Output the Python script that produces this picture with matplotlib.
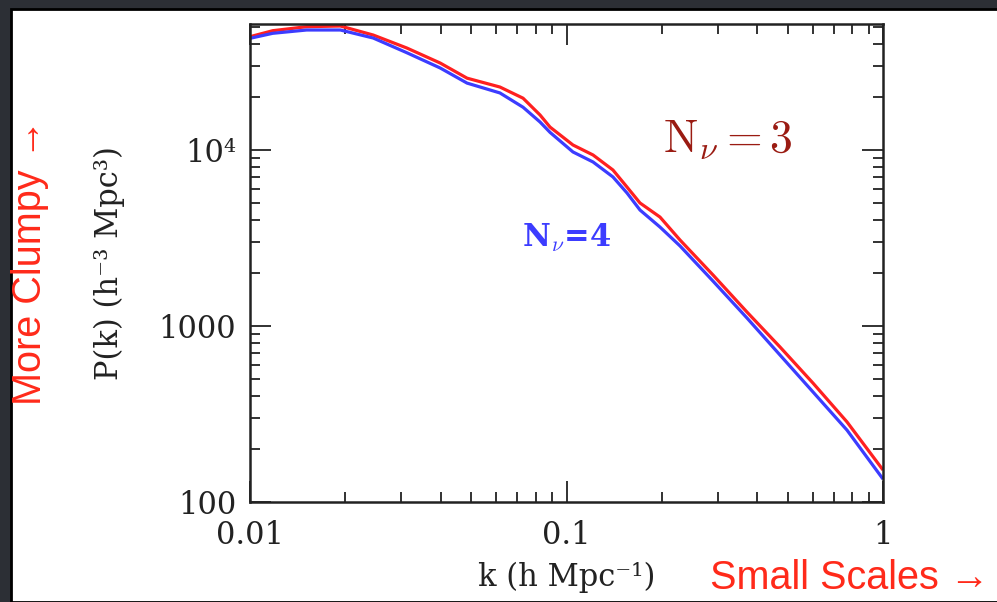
import matplotlib.pyplot as plt
import numpy as np
from matplotlib.patches import Rectangle
from matplotlib.ticker import FixedLocator, FixedFormatter, LogLocator, NullFormatter

# k (h/Mpc) and P(k)
k = [0.01, 0.0118, 0.0151, 0.0193, 0.0245, 0.0313, 0.0399, 0.0485, 0.0616, 0.0729,
     0.0825, 0.0887, 0.1048, 0.1213, 0.1402, 0.1553, 0.1707, 0.1974, 0.2284, 0.2903,
     0.3718, 0.4727, 0.6008, 0.7697, 1.0]
p_n3 = [44040, 47640, 50200, 50650, 45020, 37980, 31200, 25600, 22800, 19700,
        15810, 13500, 10680, 9370, 7700, 6160, 5000, 4160, 3080, 1950,
        1200, 760, 474, 285, 152]
p_n4 = [43120, 46040, 48070, 48070, 43290, 35710, 29240, 24000, 21100, 17500,
        14420, 12600, 9750, 8550, 7030, 5700, 4560, 3650, 2850, 1800,
        1110, 684, 422, 256, 135]

y_ticks = [100, 1000, 10000]
y_labels = ["100", "1000", "10⁴"]
x_ticks = [0.01, 0.1, 1]
x_labels = ["0.01", "0.1", "1"]

serif = ["DejaVu Serif"]
sans = ["Liberation Sans", "DejaVu Sans"]
ink = "#222222"

fig = plt.figure(figsize=(9.97, 6.02), dpi=100, facecolor="#2c2f35")
# white slide panel behind everything
fig.patches.append(Rectangle((11 / 997, 0), 1, 1 - 9 / 602, transform=fig.transFigure,
                             facecolor="white", edgecolor="black", lw=2, zorder=-5))

ax = fig.add_axes([250 / 997, 1 - 502 / 602, 633 / 997, 478 / 602])
ax.set_facecolor("none")

ax.plot(k, p_n3, color="#ff2020", lw=2.3, solid_capstyle="butt", solid_joinstyle="round")
ax.plot(k, p_n4, color="#3c3cff", lw=2.3, solid_capstyle="butt", solid_joinstyle="round")

ax.set_xscale("log")
ax.set_yscale("log")
ax.set_xlim(0.01, 1)
ax.set_ylim(100, 10 ** 4.716)

ax.xaxis.set_major_locator(FixedLocator(x_ticks))
ax.xaxis.set_major_formatter(FixedFormatter(x_labels))
ax.yaxis.set_major_locator(FixedLocator(y_ticks))
ax.yaxis.set_major_formatter(FixedFormatter(y_labels))
ax.xaxis.set_minor_locator(LogLocator(base=10, subs=np.arange(2, 10)))
ax.yaxis.set_minor_locator(LogLocator(base=10, subs=np.arange(2, 10)))
ax.xaxis.set_minor_formatter(NullFormatter())
ax.yaxis.set_minor_formatter(NullFormatter())

ax.tick_params(which="both", direction="in", top=True, right=True, width=1.3, color=ink)
ax.tick_params(which="major", length=15)
ax.tick_params(which="minor", length=7)
ax.tick_params(axis="y", which="major", pad=10)
ax.tick_params(axis="x", which="major", pad=13)
for lab in ax.get_xticklabels() + ax.get_yticklabels():
    lab.set_family(serif)
    lab.set_fontsize(22)
    lab.set_color(ink)
for s in ax.spines.values():
    s.set_linewidth(1.8)
    s.set_color(ink)

ax.set_xlabel("k (h Mpc⁻¹)", family=serif, fontsize=22, color=ink, labelpad=8)
ax.set_ylabel("P(k) (h⁻³ Mpc³)", family=serif, fontsize=22, color=ink, labelpad=24)

# annotations
fig.text(728 / 997, 1 - 140 / 602, r"$\mathrm{N}_\nu = 3$", color="#9a1b12", fontsize=33,
         ha="center", va="center", math_fontfamily="cm")
fig.text(567 / 997, 1 - 238 / 602, r"N$_\nu$=4", color="#3c3cff", fontsize=22,
         fontweight="bold", family=serif, ha="center", va="center", math_fontfamily="cm")

fig.text(710 / 997, 1 - 578 / 602, "Small Scales →", color="#ff2a1a", fontsize=28.5,
         family=sans, ha="left", va="center")
fig.text(30 / 997, 1 - 262 / 602, "More Clumpy →", color="#ff2a1a", fontsize=28.5,
         family=sans, ha="center", va="center", rotation=90)

fig.savefig("out.png", dpi=100, facecolor=fig.get_facecolor())
